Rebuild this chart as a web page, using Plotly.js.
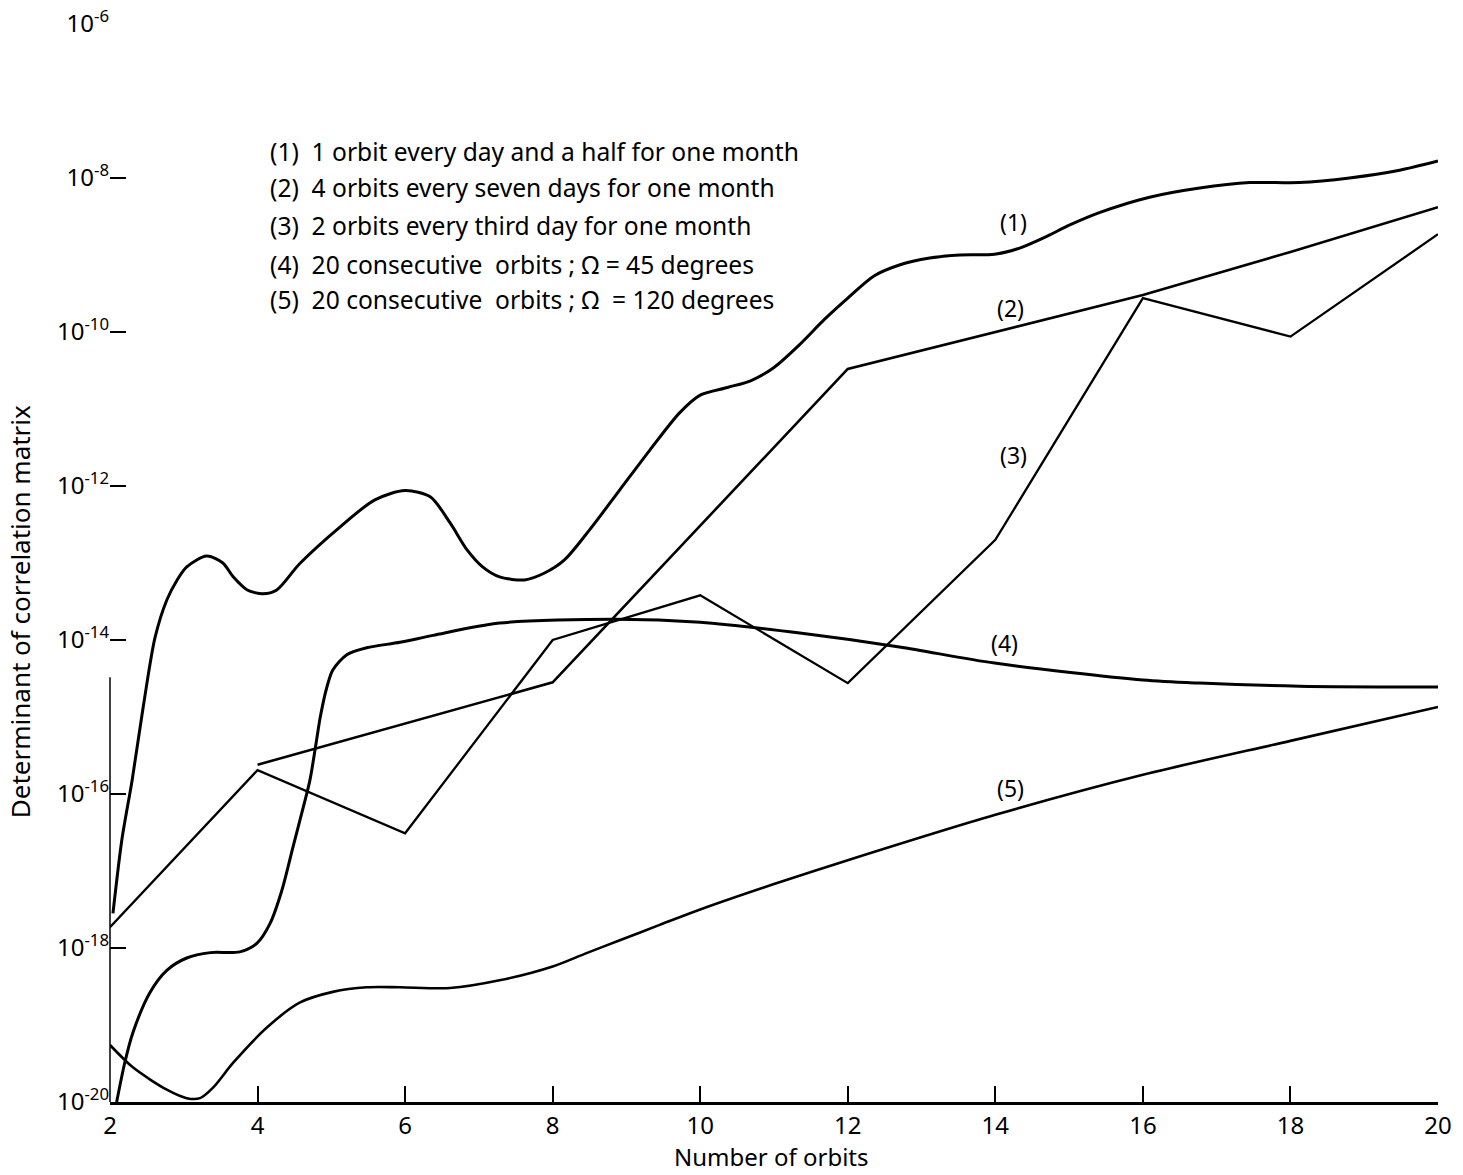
<!DOCTYPE html>
<html>
<head>
<meta charset="utf-8">
<script src="https://cdn.plot.ly/plotly-3.0.1.min.js"></script>
<style>html,body{margin:0;padding:0;background:#fff;}#chart{width:1463px;height:1175px;}</style>
</head>
<body>
<div id="chart"></div>
<script>
// Values. y values are log10 of the determinant.
const c1x = [2.04, 2.16, 2.30, 2.45, 2.61, 2.77, 2.91, 3.04, 3.31, 3.53, 3.67, 3.86, 4.07, 4.26, 4.57, 5.12, 5.59, 6.0, 6.34, 6.61, 6.84, 7.05, 7.28, 7.62, 7.89, 8.16, 8.50, 8.91, 9.32, 9.72, 10.0, 10.37, 10.69, 11.0, 11.34, 11.68, 12.0, 12.36, 12.70, 13.11, 13.52, 13.99, 14.33, 14.67, 15.01, 15.41, 16.09, 16.77, 17.45, 18.12, 18.80, 19.48, 20.0];
const c1v = [-17.55, -16.60, -15.82, -14.87, -13.97, -13.48, -13.22, -13.05, -12.91, -13.0, -13.18, -13.35, -13.40, -13.35, -13.01, -12.53, -12.18, -12.06, -12.14, -12.48, -12.83, -13.05, -13.18, -13.22, -13.13, -12.96, -12.57, -12.05, -11.53, -11.05, -10.82, -10.72, -10.63, -10.46, -10.17, -9.84, -9.56, -9.27, -9.13, -9.04, -9.00, -8.99, -8.91, -8.77, -8.61, -8.45, -8.25, -8.13, -8.06, -8.06, -8.0, -7.90, -7.78];

const c2x = [4, 8, 12, 14, 16, 18, 20];
const c2v = [-15.62, -14.55, -10.48, -10.0, -9.52, -8.96, -8.38];

const c3x = [2, 4, 6, 8, 10, 12, 14, 16, 18, 20];
const c3v = [-17.73, -15.69, -16.51, -14.0, -13.42, -14.56, -12.70, -9.56, -10.06, -8.73];

const c4x = [2.09, 2.20, 2.31, 2.54, 2.77, 3.04, 3.36, 3.76, 3.99, 4.17, 4.33, 4.48, 4.62, 4.71, 4.80, 4.85, 4.94, 5.02, 5.21, 5.48, 5.93, 6.38, 7.28, 8.87, 10.0, 11.35, 12.70, 13.99, 16.0, 16.77, 18.12, 20.0];
const c4v = [-20.0, -19.49, -19.10, -18.58, -18.29, -18.13, -18.06, -18.05, -17.94, -17.68, -17.25, -16.69, -16.17, -15.82, -15.30, -15.0, -14.61, -14.39, -14.19, -14.10, -14.03, -13.94, -13.78, -13.73, -13.77, -13.91, -14.09, -14.30, -14.52, -14.56, -14.60, -14.61];

const c5x = [2.0, 2.31, 2.77, 3.04, 3.22, 3.40, 3.67, 4.13, 4.57, 5.02, 5.48, 5.93, 6.61, 7.28, 8.0, 8.45, 8.91, 9.45, 10.0, 11.0, 12.0, 14.0, 16.0, 18.0, 20.0];
const c5v = [-19.26, -19.55, -19.84, -19.95, -19.95, -19.81, -19.49, -19.03, -18.71, -18.57, -18.51, -18.51, -18.52, -18.42, -18.24, -18.07, -17.90, -17.70, -17.50, -17.17, -16.86, -16.27, -15.75, -15.31, -14.87];

const xTicks = [2, 4, 6, 8, 10, 12, 14, 16, 18, 20];
const yTickExp = [-20, -18, -16, -14, -12, -10, -8, -6];

const curveLabels = ['(1)', '(2)', '(3)', '(4)', '(5)'];
const curveLabelX = [14.24, 14.2, 14.24, 14.13, 14.2];
const curveLabelV = [-8.57, -9.69, -11.6, -14.04, -15.92];

const legendLines = [
  '(1)  1 orbit every day and a half for one month',
  '(2)  4 orbits every seven days for one month',
  '(3)  2 orbits every third day for one month',
  '(4)  20 consecutive  orbits ; Ω = 45 degrees',
  '(5)  20 consecutive  orbits ; Ω  = 120 degrees'
];
const legendV = [-7.65, -8.12, -8.62, -9.12, -9.58];

const FONT = 'Noto Sans, DejaVu Sans, sans-serif';
const pw = v => v.map(e => Math.pow(10, e));

function tr(x, v, shape, w) {
  const line = {color: '#000', width: w, shape: shape};
  if (shape === 'spline') line.smoothing = 0.8;
  return {x: x, y: pw(v), type: 'scatter', mode: 'lines', line: line, hoverinfo: 'skip', showlegend: false};
}

const data = [
  tr(c1x, c1v, 'spline', 3),
  tr(c2x, c2v, 'linear', 2.6),
  tr(c3x, c3v, 'linear', 2.3),
  tr(c4x, c4v, 'spline', 3),
  tr(c5x, c5v, 'spline', 2.6)
];

const annotations = [];
curveLabels.forEach((t, i) => annotations.push({
  x: curveLabelX[i], y: curveLabelV[i], xref: 'x', yref: 'y', text: t, showarrow: false,
  xanchor: 'center', yanchor: 'middle',
  font: {family: FONT, size: 23, color: '#000'}
}));
legendLines.forEach((t, i) => annotations.push({
  x: 4.14, y: legendV[i], xref: 'x', yref: 'y', text: t, showarrow: false, xanchor: 'left', yanchor: 'middle',
  font: {family: FONT, size: 24.6, color: '#000'}
}));
annotations.push({
  x: 0.498, y: -0.051, xref: 'paper', yref: 'paper', text: 'Number of orbits', showarrow: false,
  xanchor: 'center', yanchor: 'middle',
  font: {family: FONT, size: 24, color: '#000'}
});
annotations.push({
  x: -0.068, y: 0.455, xref: 'paper', yref: 'paper', text: 'Determinant of correlation matrix', showarrow: false,
  xanchor: 'center', yanchor: 'middle',
  textangle: -90, font: {family: FONT, size: 26, color: '#000'}
});

const layout = {
  width: 1463, height: 1175,
  margin: {l: 110, r: 25, t: 24, b: 73},
  paper_bgcolor: '#fff', plot_bgcolor: '#fff',
  showlegend: false,
  xaxis: {
    range: [2, 20], tickvals: xTicks, ticktext: xTicks.map(String),
    ticks: 'inside', ticklen: 16, tickwidth: 2, tickcolor: '#000',
    showline: true, linewidth: 3, linecolor: '#000',
    showgrid: false, zeroline: false,
    tickfont: {family: FONT, size: 24, color: '#000'}
  },
  yaxis: {
    type: 'log', range: [-20, -6],
    tickvals: pw(yTickExp), ticktext: yTickExp.map(e => '10<sup>' + e + '</sup>'),
    ticks: 'inside', ticklen: 16, tickwidth: 2, tickcolor: '#000',
    showline: false, showgrid: false, zeroline: false,
    tickfont: {family: FONT, size: 24, color: '#000'}
  },
  shapes: [
    {type: 'line', xref: 'paper', yref: 'paper', x0: 0, x1: 0, y0: 0, y1: 0.394, line: {color: '#000', width: 1.5}}
  ],
  annotations: annotations
};

Plotly.newPlot('chart', data, layout, {staticPlot: true});
</script>
</body>
</html>
